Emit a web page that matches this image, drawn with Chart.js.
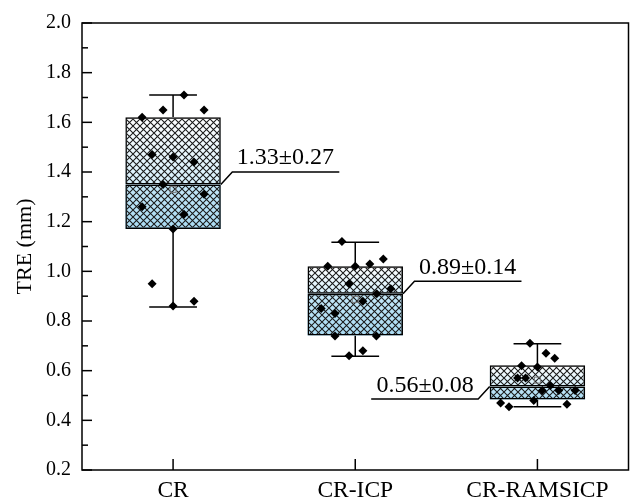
<!DOCTYPE html>
<html>
<head>
<meta charset="utf-8">
<script src="https://cdn.jsdelivr.net/npm/chart.js@4.4.0/dist/chart.umd.min.js"></script>
<style>
  html, body { margin: 0; padding: 0; background: #fff; }
  #wrap { width: 633px; height: 503px; }
</style>
</head>
<body>
<div id="wrap"><canvas id="myChart" width="633" height="503"></canvas></div>
<script>
const categories = ['CR', 'CR-ICP', 'CR-RAMSICP'];
const yTicks = [0.2, 0.4, 0.6, 0.8, 1.0, 1.2, 1.4, 1.6, 1.8, 2.0];

// box statistics per group
const whiskerLow = [0.856, 0.658, 0.455];
const q1 = [1.17, 0.742, 0.484];
const median = [1.35, 0.91, 0.536];
const q3 = [1.62, 1.02, 0.622];
const whiskerHigh = [1.71, 1.117, 0.708];
const means = [1.33, 0.887, 0.562];
const meanLabels = ['1.33±0.27', '0.89±0.14', '0.56±0.08'];
const labelSide = [1, 1, -1];

// raw points and their horizontal jitter (in category units)
const crValues = [1.71, 1.65, 1.65, 1.62, 1.47, 1.46, 1.44, 1.35, 1.31, 1.26, 1.23, 1.17, 0.95, 0.88, 0.86];
const crJitter = [0.06, -0.055, 0.17, -0.17, -0.115, 0, 0.115, -0.055, 0.17, -0.17, 0.06, 0, -0.115, 0.115, 0];
const icpValues = [1.12, 1.02, 1.02, 1.03, 1.05, 0.95, 0.91, 0.93, 0.88, 0.85, 0.83, 0.74, 0.74, 0.68, 0.66];
const icpJitter = [-0.073, -0.151, 0, 0.08, 0.154, -0.034, 0.118, 0.195, 0.042, -0.187, -0.111, -0.111, 0.116, 0.042, -0.034];
const ramsValues = [0.71, 0.67, 0.65, 0.62, 0.615, 0.57, 0.57, 0.54, 0.52, 0.52, 0.52, 0.47, 0.455, 0.48, 0.465];
const ramsJitter = [-0.041, 0.047, 0.095, -0.087, 0, -0.109, -0.065, 0.071, 0.027, 0.117, 0.207, -0.202, -0.156, -0.02, 0.162];

const groupValues = [crValues, icpValues, ramsValues];
const groupJitter = [crJitter, icpJitter, ramsJitter];

const FONT = "'Liberation Serif', 'Times New Roman', serif";

const points = [];
groupValues.forEach((vals, i) => {
    vals.forEach((v, j) => points.push({ x: i + 1 + groupJitter[i][j], y: v }));
});

const boxData = (lo, hi) => categories.map((c, i) => ({ x: i + 1, y: [lo[i], hi[i]] }));

function makeHatch() {
    const s = 7;
    const c = document.createElement('canvas');
    c.width = s; c.height = s;
    const g = c.getContext('2d');
    g.strokeStyle = '#1a1a1a';
    g.lineWidth = 1.05;
    g.beginPath();
    g.moveTo(-1, -1); g.lineTo(s + 1, s + 1);
    g.moveTo(-1, s + 1); g.lineTo(s + 1, -1);
    g.stroke();
    return g.createPattern(c, 'repeat');
}
const hatch = makeHatch();

function boxFill(context) {
    const chart = context.chart;
    const y = chart.scales.y;
    if (context.type !== 'data' || !y) return '#c9e9f8';
    const i = context.dataIndex;
    const top = y.getPixelForValue(q3[i]);
    const bot = y.getPixelForValue(q1[i]);
    if (!isFinite(top) || !isFinite(bot) || bot <= top) return '#c9e9f8';
    let m = (y.getPixelForValue(median[i]) - top) / (bot - top);
    m = Math.min(1, Math.max(0, m));
    const g = chart.ctx.createLinearGradient(0, top, 0, bot);
    g.addColorStop(0, '#ffffff');
    g.addColorStop(m, '#d6effb');
    g.addColorStop(m, '#c4e7f8');
    g.addColorStop(1, '#a9daf2');
    return g;
}

function line(ctx, x1, y1, x2, y2) {
    ctx.beginPath();
    ctx.moveTo(x1, y1);
    ctx.lineTo(x2, y2);
    ctx.stroke();
}

const boxExtras = {
    id: 'boxExtras',
    beforeDatasetsDraw(chart) {
        const ctx = chart.ctx, x = chart.scales.x, y = chart.scales.y;
        const meta = chart.getDatasetMeta(1);
        ctx.save();
        ctx.strokeStyle = '#000';
        ctx.lineWidth = 1.5;
        categories.forEach((c, i) => {
            const px = x.getPixelForValue(i + 1);
            const cap = meta.data[i].width / 4;
            const yh = y.getPixelForValue(whiskerHigh[i]);
            const yl = y.getPixelForValue(whiskerLow[i]);
            line(ctx, px, y.getPixelForValue(q3[i]), px, yh);
            line(ctx, px, y.getPixelForValue(q1[i]), px, yl);
            line(ctx, px - cap, yh, px + cap, yh);
            line(ctx, px - cap, yl, px + cap, yl);
        });
        ctx.restore();
    },
    afterDatasetsDraw(chart) {
        const ctx = chart.ctx, x = chart.scales.x, y = chart.scales.y, a = chart.chartArea;
        const meta = chart.getDatasetMeta(1);
        ctx.save();
        // mean markers
        ctx.strokeStyle = '#777';
        ctx.lineWidth = 1;
        categories.forEach((c, i) => {
            const px = x.getPixelForValue(i + 1);
            const py = y.getPixelForValue(means[i]);
            ctx.strokeRect(px - 3, py - 3, 6, 6);
        });
        // mean ± sd annotations with leader lines
        ctx.strokeStyle = '#000';
        ctx.lineWidth = 1.5;
        ctx.fillStyle = '#000';
        ctx.font = '24px ' + FONT;
        ctx.textBaseline = 'alphabetic';
        categories.forEach((c, i) => {
            const dir = labelSide[i];
            const half = meta.data[i].width / 2;
            const ax = x.getPixelForValue(i + 1) + dir * half;
            const ay = y.getPixelForValue(median[i]);
            const ex = ax + dir * 11.5;
            const ey = ay + (dir > 0 ? -12.5 : 12.5);
            ctx.beginPath();
            ctx.moveTo(ax, ay);
            ctx.lineTo(ex, ey);
            ctx.lineTo(ex + dir * 107, ey);
            ctx.stroke();
            ctx.textAlign = dir > 0 ? 'left' : 'right';
            ctx.fillText(meanLabels[i], ex + dir * 4.5, ey - 7.5);
        });
        // frame and inward ticks
        ctx.strokeStyle = '#000';
        ctx.lineWidth = 1.5;
        ctx.strokeRect(a.left, a.top, a.right - a.left, a.bottom - a.top);
        yTicks.forEach((v, k) => {
            const py = y.getPixelForValue(v);
            line(ctx, a.left, py, a.left + 10, py);
            if (k < yTicks.length - 1) {
                const pm = y.getPixelForValue((v + yTicks[k + 1]) / 2);
                line(ctx, a.left, pm, a.left + 6, pm);
            }
        });
        categories.forEach((c, i) => {
            const px = x.getPixelForValue(i + 1);
            line(ctx, px, a.bottom, px, a.bottom - 11);
        });
        ctx.restore();
    }
};

const barCommon = {
    type: 'bar',
    grouped: false,
    barPercentage: 0.524,
    categoryPercentage: 1,
    borderSkipped: false
};

const ctx = document.getElementById('myChart');
new Chart(ctx, {
    type: 'bar',
    data: {
        datasets: [
            {
                type: 'scatter',
                data: points,
                order: 0,
                pointStyle: 'rectRot',
                pointRadius: 4.5,
                backgroundColor: '#000',
                borderColor: '#000',
                borderWidth: 0
            },
            Object.assign({}, barCommon, {
                data: boxData(median, q3), order: 1,
                backgroundColor: hatch, borderColor: '#000', borderWidth: 1.5
            }),
            Object.assign({}, barCommon, {
                data: boxData(q1, median), order: 1,
                backgroundColor: hatch, borderColor: '#000', borderWidth: 1.5
            }),
            Object.assign({}, barCommon, {
                data: boxData(median, q3), order: 2,
                backgroundColor: boxFill, borderWidth: 0
            }),
            Object.assign({}, barCommon, {
                data: boxData(q1, median), order: 2,
                backgroundColor: boxFill, borderWidth: 0
            })
        ]
    },
    options: {
        responsive: false,
        animation: false,
        layout: { padding: { top: 22, right: 1, left: 0, bottom: 0 } },
        plugins: { legend: { display: false }, tooltip: { enabled: false } },
        scales: {
            x: {
                type: 'linear',
                min: 0.5,
                max: 3.5,
                offset: false,
                grid: { display: false, drawTicks: false },
                border: { display: false },
                afterBuildTicks: (scale) => {
                    scale.ticks = categories.map((c, i) => ({ value: i + 1 }));
                },
                afterFit: (scale) => { scale.height = 33; },
                ticks: {
                    autoSkip: false,
                    maxRotation: 0,
                    padding: 7,
                    color: '#000',
                    font: { family: FONT, size: 23.5 },
                    callback: (v) => categories[Math.round(v) - 1]
                }
            },
            y: {
                min: 0.2,
                max: 2.0,
                grid: { display: false, drawTicks: false },
                border: { display: false },
                afterBuildTicks: (scale) => {
                    scale.ticks = yTicks.map(v => ({ value: v }));
                },
                afterFit: (scale) => { scale.width = 82; },
                ticks: {
                    padding: 11,
                    color: '#000',
                    font: { family: FONT, size: 20 },
                    callback: (v) => v.toFixed(1)
                },
                title: {
                    display: true,
                    text: 'TRE (mm)',
                    color: '#000',
                    font: { family: FONT, size: 22 },
                    padding: { top: 12, bottom: 0 }
                }
            }
        }
    },
    plugins: [boxExtras]
});
</script>
</body>
</html>
